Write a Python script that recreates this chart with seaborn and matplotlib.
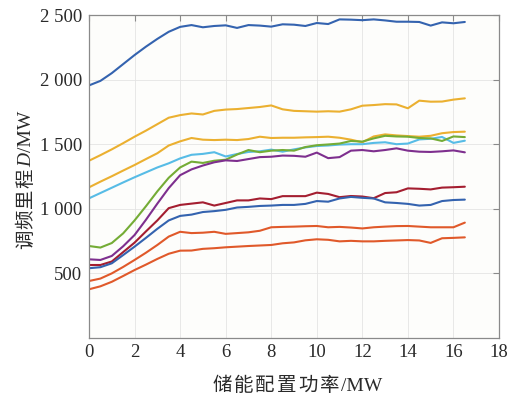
import matplotlib
matplotlib.use("Agg")
import matplotlib.pyplot as plt
import matplotlib.transforms as mtransforms
import pandas as pd
import seaborn as sns

# Storage power rating (MW)
power = [0, 0.5, 1, 1.5, 2, 2.5, 3, 3.5, 4, 4.5, 5, 5.5, 6, 6.5, 7, 7.5, 8, 8.5,
         9, 9.5, 10, 10.5, 11, 11.5, 12, 12.5, 13, 13.5, 14, 14.5, 15, 15.5, 16, 16.5]

# Regulation mileage D (MW) for each case
blue_high = [1955, 1990, 2050, 2120, 2190, 2255, 2315, 2370, 2408, 2422, 2405, 2415,
             2420, 2400, 2422, 2418, 2410, 2428, 2425, 2415, 2438, 2430, 2466, 2464,
             2460, 2466, 2458, 2448, 2448, 2446, 2418, 2443, 2436, 2446]
yellow_high = [1372, 1415, 1460, 1508, 1558, 1605, 1655, 1705, 1725, 1738, 1730, 1758,
               1768, 1772, 1780, 1788, 1800, 1770, 1758, 1755, 1752, 1755, 1752, 1770,
               1798, 1803, 1810, 1808, 1778, 1837, 1829, 1830, 1845, 1855]
yellow_mid = [1166, 1210, 1252, 1296, 1339, 1385, 1430, 1490, 1522, 1548, 1535, 1532,
              1535, 1532, 1540, 1558, 1548, 1550, 1550, 1553, 1555, 1558, 1550, 1535,
              1515, 1560, 1576, 1568, 1563, 1558, 1565, 1585, 1594, 1597]
cyan = [1081, 1122, 1163, 1204, 1244, 1282, 1320, 1352, 1390, 1418, 1425, 1438,
        1405, 1424, 1440, 1445, 1458, 1442, 1460, 1475, 1486, 1490, 1497, 1500,
        1500, 1510, 1515, 1500, 1505, 1537, 1542, 1556, 1510, 1527]
green = [712, 700, 735, 810, 910, 1020, 1135, 1240, 1320, 1365, 1355, 1372,
         1380, 1420, 1455, 1438, 1450, 1455, 1450, 1478, 1492, 1498, 1505, 1525,
         1520, 1545, 1565, 1560, 1558, 1548, 1545, 1525, 1560, 1555]
purple = [609, 604, 635, 710, 797, 915, 1040, 1160, 1260, 1305, 1335, 1360,
          1375, 1370, 1385, 1400, 1403, 1412, 1410, 1403, 1435, 1392, 1400, 1450,
          1455, 1445, 1455, 1468, 1450, 1442, 1440, 1445, 1452, 1437]
dark_red = [565, 565, 592, 665, 738, 825, 910, 1005, 1030, 1040, 1050, 1025,
            1045, 1065, 1065, 1080, 1075, 1098, 1098, 1098, 1125, 1115, 1090, 1099,
            1095, 1082, 1122, 1128, 1158, 1155, 1150, 1164, 1167, 1171]
blue_low = [540, 548, 578, 642, 707, 775, 845, 910, 945, 955, 975, 982,
            992, 1010, 1015, 1022, 1025, 1030, 1030, 1038, 1060, 1055, 1080, 1092,
            1085, 1080, 1050, 1045, 1038, 1025, 1030, 1060, 1068, 1071]
orange_high = [441, 460, 500, 550, 604, 660, 720, 785, 822, 812, 815, 822,
               806, 812, 818, 830, 857, 860, 862, 865, 867, 857, 860, 855,
               848, 857, 862, 866, 867, 862, 857, 857, 857, 893]
orange_low = [377, 400, 435, 480, 526, 568, 612, 652, 676, 677, 690, 695,
              702, 707, 712, 716, 720, 733, 740, 756, 764, 760, 748, 752,
              748, 748, 752, 755, 758, 755, 736, 772, 775, 779]

series_names = ["blue_high", "yellow_high", "yellow_mid", "cyan", "green",
                "purple", "dark_red", "blue_low", "orange_high", "orange_low"]
series_values = [blue_high, yellow_high, yellow_mid, cyan, green,
                 purple, dark_red, blue_low, orange_high, orange_low]
series_colors = ["#3463AF", "#EBB030", "#EBB030", "#57BCE6", "#74AC35",
                 "#7E2F8E", "#A41E30", "#3463AF", "#E0592A", "#E0592A"]

x_ticks = [0, 2, 4, 6, 8, 10, 12, 14, 16, 18]
y_ticks = [500, 1000, 1500, 2000, 2500]
y_tick_labels = ["500", "1 000", "1 500", "2 000", "2 500"]

df = pd.concat(
    [pd.DataFrame({"power": power, "mileage": vals, "series": name})
     for name, vals in zip(series_names, series_values)],
    ignore_index=True,
)

sns.set_theme(style="whitegrid")
plt.rcParams["font.family"] = ["Liberation Serif", "Noto Sans CJK SC"]

W, H, DPI = 520, 396, 100
fig = plt.figure(figsize=(W / DPI, H / DPI), dpi=DPI)
fig.patch.set_facecolor("white")
ax = fig.add_axes([89 / W, 1 - 338 / H, 410 / W, 323 / H])
ax.set_facecolor("#fdfdfb")

sns.lineplot(data=df, x="power", y="mileage", hue="series",
             hue_order=series_names, palette=series_colors,
             estimator=None, sort=False, legend=False, linewidth=1.5, ax=ax)

ax.set_xlim(0, 18)
ax.set_ylim(0, 2500)
ax.set_xticks(x_ticks)
ax.set_xticklabels([str(v) for v in x_ticks])
ax.set_yticks(y_ticks)
ax.set_yticklabels(y_tick_labels)
ax.set_xlabel("")
ax.set_ylabel("")

ax.grid(True, color="#e4e4e4", linewidth=0.6)
for sp in ax.spines.values():
    sp.set_visible(True)
    sp.set_color("#8a8a8a")
    sp.set_linewidth(0.9)
ax.tick_params(axis="both", direction="in", top=True, right=True, length=4,
               width=0.8, color="#8a8a8a", labelsize=13.5, labelcolor="#2a2a2a")
ax.tick_params(axis="x", pad=4)
ax.tick_params(axis="y", pad=5)

# Axis titles are set piece by piece so that the italic symbol and the
# spaced Chinese characters sit on one shared baseline.
ident = mtransforms.IdentityTransform()
renderer = fig.canvas.get_renderer()


def place_label(pieces, center, baseline, vertical, gap):
    texts = []
    for s, style in pieces:
        t = fig.text(0, 0, s, transform=ident, rotation=90 if vertical else 0,
                     rotation_mode="anchor", ha="left", va="baseline",
                     fontsize=14, color="#2a2a2a", style=style,
                     family=["Liberation Serif", "Noto Sans CJK SC"])
        texts.append(t)
    lengths = []
    for t in texts:
        bb = t.get_window_extent(renderer)
        lengths.append(bb.height if vertical else bb.width)
    total = sum(lengths) + gap * (len(texts) - 1)
    cursor = center - total / 2
    for t, length in zip(texts, lengths):
        if vertical:
            t.set_position((baseline, cursor))
        else:
            t.set_position((cursor, baseline))
        cursor += length + gap


place_label([("储", "normal"), ("能", "normal"), ("配", "normal"), ("置", "normal"),
             ("功", "normal"), ("率", "normal"), ("/MW", "normal")],
            center=297.5, baseline=H - 391, vertical=False, gap=2.0)
place_label([("调", "normal"), ("频", "normal"), ("里", "normal"), ("程", "normal"),
             ("D", "italic"), ("/MW", "normal")],
            center=H - 180, baseline=31, vertical=True, gap=1.0)

fig.savefig("out.png", dpi=DPI, facecolor="white")
